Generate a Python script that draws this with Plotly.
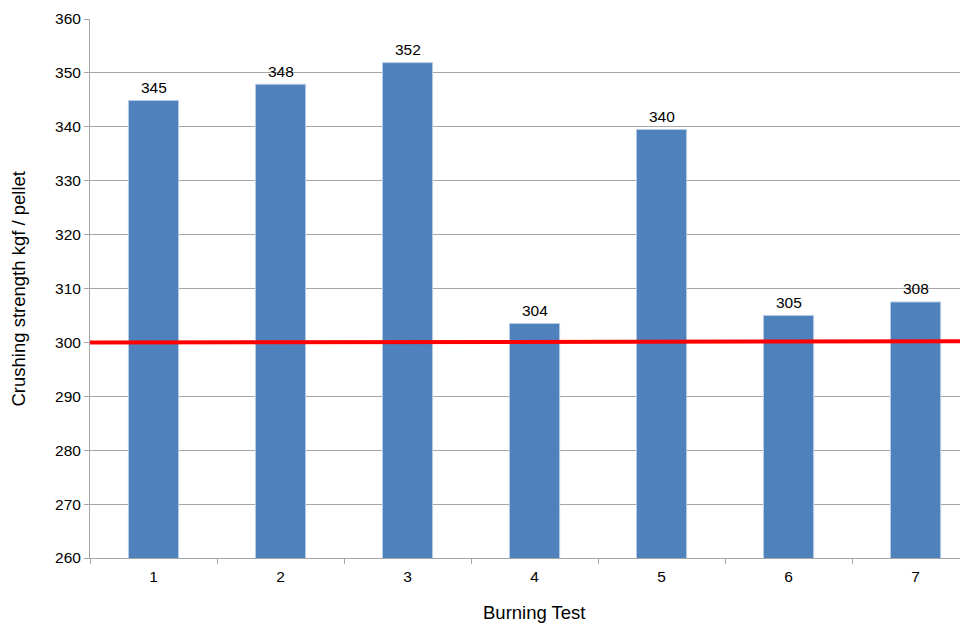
import plotly.graph_objects as go

categories = ["1", "2", "3", "4", "5", "6", "7"]
strength = [344.9, 347.9, 351.9, 303.5, 339.5, 305.0, 307.5]
labels = ["345", "348", "352", "304", "340", "305", "308"]
threshold = 300
y_ticks = list(range(260, 361, 10))

font_family = "Liberation Sans, Arial, Helvetica, sans-serif"

fig = go.Figure()
fig.add_trace(go.Bar(
    x=categories, y=strength,
    marker=dict(color="#4F81BD", line=dict(color="#B9CDE5", width=1)),
    width=0.395, showlegend=False, hoverinfo="x+y",
))
for i, (v, t) in enumerate(zip(strength, labels)):
    fig.add_annotation(x=i, y=v, text=t, showarrow=False, yanchor="middle",
                       yshift=13, font=dict(size=15.5, color="#000000"))

fig.add_shape(type="line", xref="paper", yref="y", x0=0, x1=1.0,
              y0=threshold, y1=threshold + 0.2,
              line=dict(color="#FF0000", width=4), layer="above")

fig.add_annotation(text="Burning Test", xref="paper", yref="paper",
                   x=0.5 * 889 / 878, y=-54 / 539, xanchor="center", yanchor="middle",
                   showarrow=False, font=dict(size=18.5, color="#000000"))
fig.add_annotation(text="Crushing strength kgf / pellet", xref="paper", yref="paper",
                   x=-72 / 878, y=0.5, xanchor="center", yanchor="middle", textangle=-90,
                   showarrow=False, font=dict(size=18.5, color="#000000"))

# page body has an 8px margin; figure sized/offset to compensate
fig.update_layout(
    width=960, height=615,
    margin=dict(l=82, r=0, t=11, b=65),
    paper_bgcolor="white", plot_bgcolor="white",
    font=dict(family=font_family, size=15.5, color="#000000"),
    xaxis=dict(
        type="category", range=[-0.5, 6.413], tickson="boundaries",
        ticks="outside", ticklen=5, tickcolor="#A6A6A6",
        showline=True, linecolor="#A6A6A6", linewidth=1,
        showgrid=False, automargin=False, ticklabelstandoff=4,
        tickfont=dict(size=15.5),
    ),
    yaxis=dict(
        range=[260, 360], tickvals=y_ticks,
        ticks="outside", ticklen=5, tickcolor="#A6A6A6",
        showline=True, linecolor="#A6A6A6", linewidth=1,
        showgrid=True, gridcolor="#A6A6A6", gridwidth=1,
        zeroline=False, automargin=False,
        tickfont=dict(size=15.5),
    ),
    bargap=0.6,
)

fig.write_html("out.html")
